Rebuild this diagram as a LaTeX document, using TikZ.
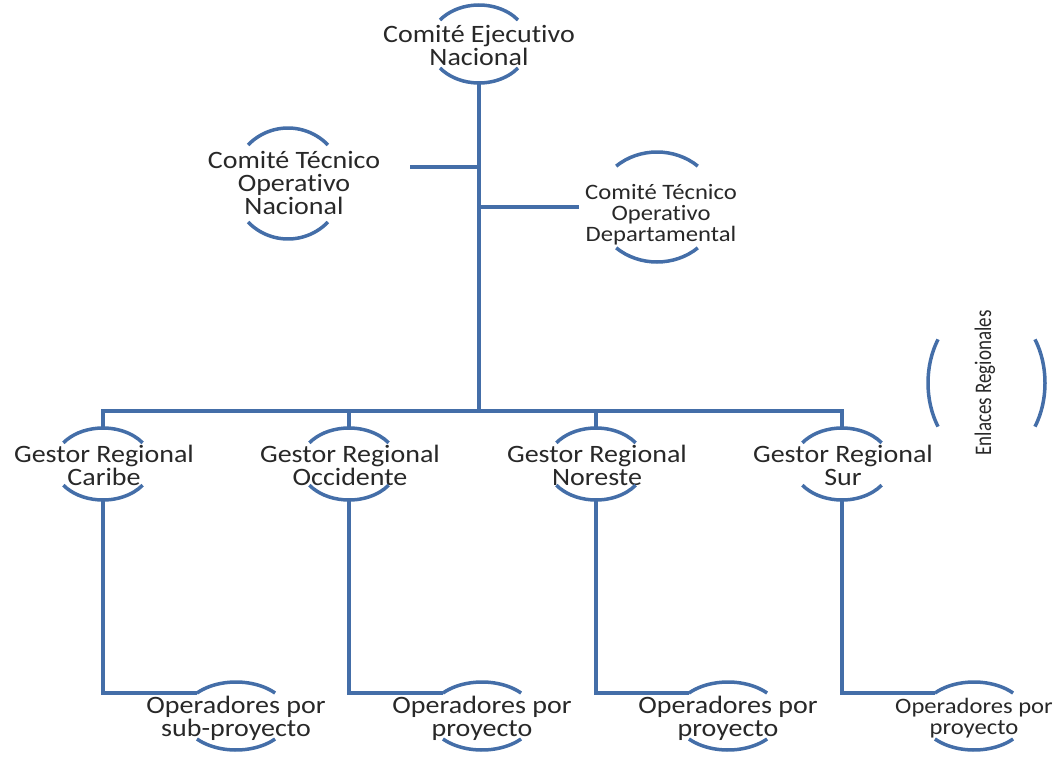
\documentclass[tikz,border=0pt]{standalone}
\usepackage{fontspec}
\usepackage{graphicx}
\newfontfamily\lbl{Carlito}[FakeStretch=1.12, Ligatures=NoCommon]
\newfontfamily\lblrot{Carlito}[Ligatures=NoCommon]
\definecolor{orgblue}{RGB}{68,110,168}
\definecolor{labgray}{RGB}{40,40,40}
% upper and lower arcs of an oval around a centre:
% #1 centre, #2 x radius, #3 y radius, #4 half-opening angle
\newcommand\ringarcs[4]{%
  \draw[ring] ([shift={(#4:#2pt and #3pt)}]#1)
    arc[start angle=#4, end angle=180-#4, x radius=#2pt, y radius=#3pt];
  \draw[ring] ([shift={(-#4:#2pt and #3pt)}]#1)
    arc[start angle=-#4, end angle=-180+#4, x radius=#2pt, y radius=#3pt];}
\begin{document}
\begin{tikzpicture}[x=1pt,y=-1pt,
  ring/.style={draw=orgblue, line width=3.5pt},
  link/.style={draw=orgblue, line width=3.5pt},
  lab/.style={align=center, text=labgray, inner sep=0pt,
    font=\lbl\fontsize{25}{23}\selectfont},
  labsmall/.style={lab, font=\lbl\fontsize{22}{21}\selectfont}]
\useasboundingbox (0,0) rectangle (1057,760);

% --- national committee
\coordinate (cen-c) at (479,44);
\node[lab] (cen) at (479,45) {Comité Ejecutivo\\Nacional};
\ringarcs{cen-c}{49.5}{39}{38}
\coordinate (cen-bot) at (479,83);

% --- national technical committee
\coordinate (cton-c) at (288,183.5);
\node[lab] (cton) at (294,183) {Comité Técnico\\Operativo\\Nacional};
\ringarcs{cton-c}{55.5}{55.5}{44}
\coordinate (cton-in) at (410,167);

% --- departmental technical committee
\coordinate (ctod-c) at (657,207);
\node[labsmall] (ctod) at (661,215) {Comité Técnico\\Operativo\\Departamental};
\ringarcs{ctod-c}{61}{55}{48}
\coordinate (ctod-in) at (579,207);

% --- regional links
\coordinate (enl-c) at (986.5,383);
\node[rotate=90, text=labgray, inner sep=0pt, font=\lblrot\fontsize{19}{19}\selectfont]
  (enl) at (985,383) {\scalebox{1}[1.25]{Enlaces Regionales}};
\draw[ring] ([shift={(146:58.5pt and 78pt)}]enl-c)
  arc[start angle=146, end angle=214, x radius=58.5pt, y radius=78pt];
\draw[ring] ([shift={(-34:58.5pt and 78pt)}]enl-c)
  arc[start angle=-34, end angle=34, x radius=58.5pt, y radius=78pt];

% --- regional managers
\foreach \n/\x/\txt in {1/103/{Gestor Regional\\Caribe},
                        2/349/{Gestor Regional\\Occidente},
                        3/596/{Gestor Regional\\Noreste},
                        4/842/{Gestor Regional\\Sur}}{
  \coordinate (g\n-c) at (\x,464);
  \node[lab] (g\n) at (\x+1,465) {\txt};
  \ringarcs{g\n-c}{49}{36}{36}
  \coordinate (g\n-top) at (\x,428);
  \coordinate (g\n-bot) at (\x,500);
}

% --- operators
\foreach \n/\x/\txt/\sty in {1/236/{Operadores por\\sub-proyecto}/lab,
                             2/482/{Operadores por\\proyecto}/lab,
                             3/728/{Operadores por\\proyecto}/lab,
                             4/974/{Operadores por\\proyecto}/labsmall}{
  \coordinate (o\n-c) at (\x,716);
  \node[\sty] (o\n) at (\x,718) {\txt};
  \ringarcs{o\n-c}{53}{34}{42.5}
  \coordinate (o\n-in) at ([shift={(137.5:53pt and 34pt)}]o\n-c);
}

% --- connectors
\coordinate (bus) at (479,411);
\coordinate (j-cton) at (479,167);
\coordinate (j-ctod) at (479,207);
\draw[link] (cen-bot) -- (bus);
\draw[link] (j-cton) -- (cton-in);
\draw[link] (j-ctod) -- (ctod-in);
\draw[link] (g1-top) |- (bus);
\draw[link] (g4-top) |- (bus);
\draw[link] (g2-top) -- (g2-top |- bus);
\draw[link] (g3-top) -- (g3-top |- bus);
\foreach \n in {1,2,3,4}{
  \draw[link] (g\n-bot) |- (o\n-in);
}
\end{tikzpicture}
\end{document}
